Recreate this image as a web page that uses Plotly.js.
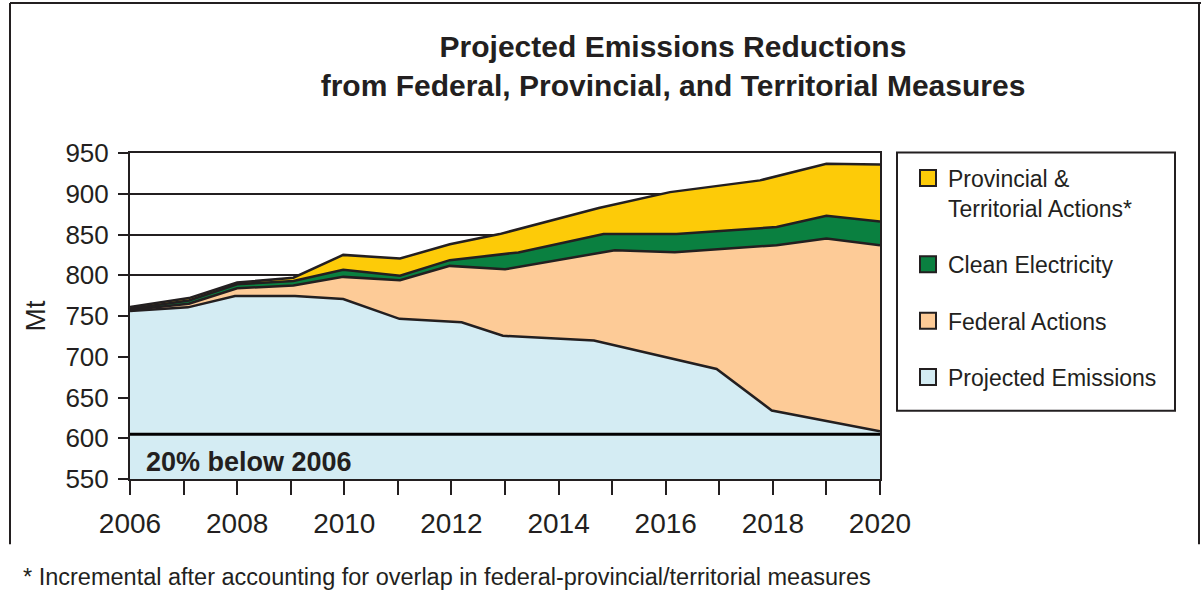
<!DOCTYPE html>
<html>
<head>
<meta charset="utf-8">
<script src="https://cdn.plot.ly/plotly-3.0.1.min.js"></script>
<style>
  html, body { margin: 0; padding: 0; background: #ffffff; }
  #chart { width: 1202px; height: 605px; }
</style>
</head>
<body>
<div id="chart"></div>
<script>
// ---- Data (Mt CO2e) ----
// Each band's upper boundary, with the vertex years as drawn in the picture.
const projYears = [2006, 2007.08, 2007.96, 2009.08, 2009.98, 2011.03, 2012.19, 2012.96, 2014.66, 2016.95, 2017.98, 2020];
const projectedEmissions = [756, 760.6, 774.5, 774.5, 770.8, 746.5, 742.3, 725.7, 719.8, 685, 634, 608.5];

const fedYears = [2006, 2007.1, 2008.0, 2009.05, 2009.98, 2011.04, 2011.97, 2013.0, 2015.05, 2016.17, 2018.07, 2019.0, 2020];
const federalActionsTop = [757.5, 765, 784, 787.5, 798, 794, 811.5, 807.3, 830.7, 828.3, 836.9, 845, 836.9];

const cleanYears = [2006, 2007.1, 2008.0, 2009.05, 2009.98, 2011.04, 2011.97, 2013.25, 2014.84, 2016.2, 2018.07, 2019.0, 2020];
const cleanElectricityTop = [759, 769, 789, 793, 806.7, 799.5, 818.5, 828, 850.6, 850.6, 859.2, 873, 866];

const provYears = [2006, 2007.1, 2008.0, 2009.05, 2009.98, 2011.04, 2011.97, 2012.9, 2014.75, 2016.08, 2017.76, 2019.0, 2020];
const provincialTop = [761, 772, 791, 797, 825, 820.5, 838, 850.5, 882.5, 902, 916.4, 936.8, 936];

const targetLevel = 605;              // 20% below 2006 (2006 ≈ 756 Mt)
const targetLabel = "20% below 2006";

const seriesNames = ["Provincial &<br>Territorial Actions*", "Clean Electricity", "Federal Actions", "Projected Emissions"];
const seriesColors = ["#FDCB08", "#0A8040", "#FDCB97", "#D4ECF3"];

const yTicks = [550, 600, 650, 700, 750, 800, 850, 900, 950];
const xTickYears = [2006, 2008, 2010, 2012, 2014, 2016, 2018, 2020];
const xMinorYears = [2007, 2009, 2011, 2013, 2015, 2017, 2019];

// ---- Styling ----
const DARK = "#231f20";
const FONT = "Liberation Sans, Arial, sans-serif";
const LINE_W = 2.5;

// pixel helpers for page-level decorations (plot area: x 130..880, y 152.5..479.5)
const PL = 130, PR = 880, PT = 152.5, PB = 479.5;
const px = x => (x - PL) / (PR - PL);
const py = y => (PB - y) / (PB - PT);

const areaLine = { color: DARK, width: LINE_W, shape: "linear" };

const traces = [
  { x: projYears, y: projectedEmissions, type: "scatter", mode: "lines", fill: "tozeroy",
    fillcolor: seriesColors[3], line: areaLine, showlegend: false, hoverinfo: "skip" },
  { x: fedYears, y: federalActionsTop, type: "scatter", mode: "lines", fill: "tonexty",
    fillcolor: seriesColors[2], line: areaLine, showlegend: false, hoverinfo: "skip" },
  { x: cleanYears, y: cleanElectricityTop, type: "scatter", mode: "lines", fill: "tonexty",
    fillcolor: seriesColors[1], line: areaLine, showlegend: false, hoverinfo: "skip" },
  { x: provYears, y: provincialTop, type: "scatter", mode: "lines", fill: "tonexty",
    fillcolor: seriesColors[0], line: areaLine, showlegend: false, hoverinfo: "skip" }
];

// legend entries (square swatches)
seriesNames.forEach((name, i) => {
  traces.push({
    x: [null], y: [null], type: "scatter", mode: "markers", name: name,
    legendgroup: "g" + i,
    marker: { symbol: "square", size: 16, color: seriesColors[i], line: { color: DARK, width: 2 } },
    hoverinfo: "skip"
  });
});

const layout = {
  width: 1202, height: 605,
  margin: { l: PL, r: 1202 - PR, t: PT, b: 605 - PB, pad: 0 },
  paper_bgcolor: "#ffffff", plot_bgcolor: "#ffffff",
  font: { family: FONT, color: DARK, size: 22 },
  title: {
    text: "<b>Projected Emissions Reductions<br>from Federal, Provincial, and Territorial Measures</b>",
    font: { family: FONT, size: 30, color: DARK },
    xref: "container", x: 673 / 1202, xanchor: "center",
    yref: "container", y: 1 - 57 / 605, yanchor: "top"
  },
  xaxis: {
    range: [2006, 2020], tickvals: xTickYears, ticktext: xTickYears.map(String),
    ticks: "outside", ticklen: 14, tickwidth: 2, tickcolor: DARK,
    minor: { tickvals: xMinorYears, ticks: "outside", ticklen: 14, tickwidth: 2, tickcolor: DARK, showgrid: false },
    showgrid: false, zeroline: false,
    showline: true, linecolor: DARK, linewidth: 2, mirror: true,
    tickfont: { family: FONT, size: 28, color: DARK },
    ticklabelstandoff: 4,
    fixedrange: true
  },
  yaxis: {
    range: [550, 950], tickvals: yTicks,
    ticks: "outside", ticklen: 10, tickwidth: 2, tickcolor: DARK,
    showgrid: true, gridcolor: DARK, gridwidth: 2, zeroline: false,
    showline: true, linecolor: DARK, linewidth: 2, mirror: true,
    tickfont: { family: FONT, size: 26, color: DARK },
    ticklabelstandoff: 4,
    title: { text: "Mt", font: { family: FONT, size: 28, color: DARK }, standoff: 12 },
    fixedrange: true
  },
  showlegend: true,
  legend: {
    x: px(908), y: py(156), xanchor: "left", yanchor: "top",
    bgcolor: "rgba(0,0,0,0)", borderwidth: 0,
    font: { family: FONT, size: 23, color: DARK },
    valign: "top", tracegroupgap: 23.5, traceorder: "grouped",
    itemclick: false, itemdoubleclick: false
  },
  shapes: [
    // 20% below 2006 line
    { type: "line", xref: "x", yref: "y", x0: 2006, x1: 2020, y0: targetLevel, y1: targetLevel,
      line: { color: "#000000", width: 3 }, layer: "above" },
    // legend frame
    { type: "rect", xref: "paper", yref: "paper", x0: px(897), x1: px(1175), y0: py(411), y1: py(152),
      line: { color: DARK, width: 2 }, fillcolor: "rgba(0,0,0,0)" },
    // outer page frame
    { type: "line", xref: "paper", yref: "paper", x0: px(10), x1: px(1201), y0: py(2), y1: py(2), line: { color: DARK, width: 2 } },
    { type: "line", xref: "paper", yref: "paper", x0: px(10), x1: px(10), y0: py(2), y1: py(545), line: { color: DARK, width: 2 } },
    { type: "line", xref: "paper", yref: "paper", x0: px(1199), x1: px(1199), y0: py(2), y1: py(545), line: { color: DARK, width: 2 } }
  ],
  annotations: [
    { text: "<b>" + targetLabel + "</b>", xref: "paper", yref: "y", x: px(144), y: 571,
      xanchor: "left", yanchor: "middle", showarrow: false,
      font: { family: FONT, size: 27, color: DARK } },
    { text: "* Incremental after accounting for overlap in federal-provincial/territorial measures",
      xref: "paper", yref: "paper", x: px(21), y: py(578), xanchor: "left", yanchor: "middle",
      showarrow: false, font: { family: FONT, size: 23.5, color: DARK } }
  ]
};

Plotly.newPlot("chart", traces, layout, { staticPlot: true, displayModeBar: false });
</script>
</body>
</html>
